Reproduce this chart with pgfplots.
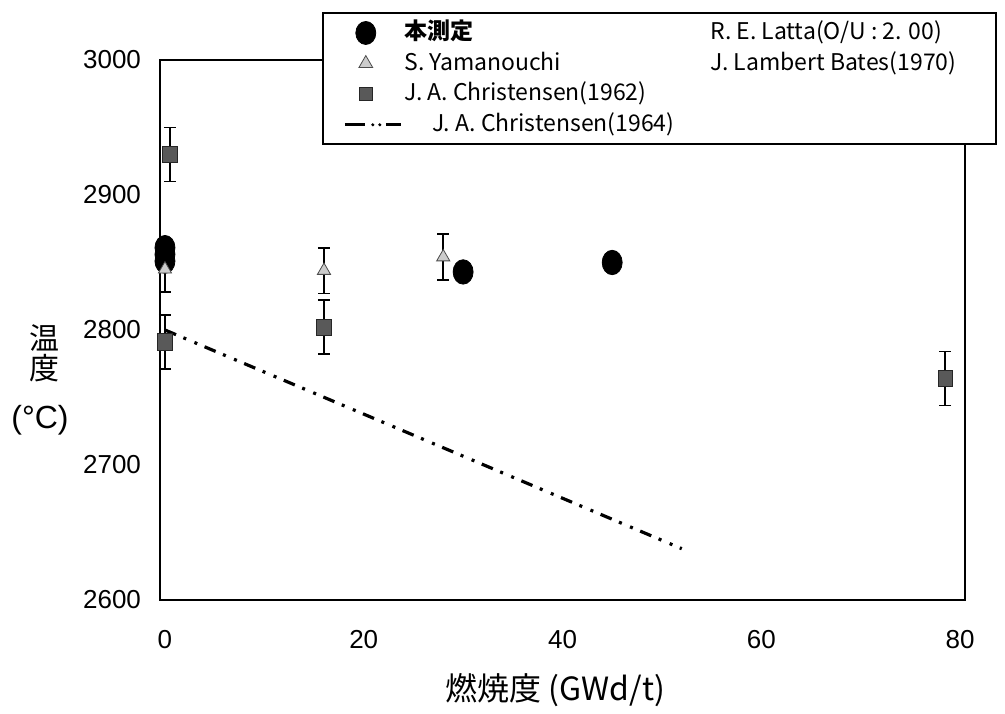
\documentclass[border=0pt]{standalone}
\usepackage{fontspec}
\setmainfont{Liberation Sans}
\newfontfamily\jfont{Noto Sans CJK JP}
\usepackage{pgfplots}
\pgfplotsset{compat=1.18}
\pgfplotsset{
    legmark/.style={legend image code/.code={%
        \path[draw=none, fill=none] (-18.5pt,-5pt) rectangle (18pt,5pt);
        \draw[##1] plot coordinates {(0pt,0pt)};}},
    legnone/.style={legend image code/.code={}},
    legdash/.style={legend image code/.code={%
        \path[draw=none, fill=none] (-18.5pt,-5pt) rectangle (18pt,5pt);
        \draw[line width=1.5pt] (-10.5pt,0pt) -- (-0.5pt,0pt);
        \draw[line width=1.5pt] (10pt,0pt) -- (17.5pt,0pt);
        \fill[draw=none] (3.5pt,0pt) circle (0.85pt);
        \fill[draw=none] (7pt,0pt) circle (0.85pt);}},
    errbar/.style={error bars/.cd, y dir=both, y explicit,
        error bar style={line width=0.9pt, black},
        error mark options={rotate=90, mark size=3pt, line width=0.9pt, black}},
}

\begin{document}
\begin{tikzpicture}
\begin{axis}[
    scale only axis, width=402.5pt, height=270pt,
    xmin=-0.5, xmax=80.5, ymin=2600, ymax=3000,
    xtick={0,20,...,80}, ytick={2600,2700,...,3000},
    axis line style={line width=1.1pt},
    major tick length=0pt,
    tick label style={font=\fontsize{13}{15}\selectfont},
    /pgf/number format/assume math mode=true,
    /pgf/number format/1000 sep={},
    xticklabel style={anchor=center, yshift=-20pt},
    yticklabel style={anchor=east, xshift=-6pt},
    clip=false,
    legend columns=2,
    legend cell align=left,
    legend style={at={(0.201,1.088)}, anchor=north west,
                  draw=black, line width=1pt, fill=white,
                  font=\jfont\fontsize{11.5}{13}\selectfont,
                  inner xsep=3pt, inner ysep=3pt, row sep=1.8pt,
                  nodes={inner sep=1pt, text height=9pt, text depth=2.5pt},
                  /tikz/every even column/.append style={column sep=16pt}},
]
\coordinate (sw) at (rel axis cs:0,0);
\coordinate (ne) at (rel axis cs:1,1);

% legend entries (row by row)
\addlegendimage{legmark, only marks, mark=*, mark size=5pt, black,
    mark options={yscale=1.15, line width=0.4pt}}
\addlegendentry{\textbf{本測定}}
\addlegendimage{legnone}
\addlegendentry{R. E. Latta(O/U : 2. 00)\hspace*{23pt}}
\addlegendimage{legmark, only marks, mark=triangle*, mark size=4pt,
    mark options={fill=gray!40, draw=black!70, line width=0.4pt}}
\addlegendentry{S. Yamanouchi}
\addlegendimage{legnone}
\addlegendentry{J. Lambert Bates(1970)}
\addlegendimage{legmark, only marks, mark=square*, mark size=3.3pt,
    mark options={fill=black!65, draw=black!85, line width=0.4pt}}
\addlegendentry{J. A. Christensen(1962)}
\addlegendimage{legnone}
\addlegendentry{}
\addlegendimage{legdash}
\addlegendentry{\hspace*{14pt}J. A. Christensen(1964)}
\addlegendimage{legnone}
\addlegendentry{}

% J. A. Christensen (1964)
\addplot[forget plot, black, line width=1.6pt,
    dash pattern=on 6pt off 4pt on 1.5pt off 4.5pt on 1.5pt off 4pt]
    coordinates {(0,2800) (52,2638)};

% 本測定
\addplot[forget plot, only marks, mark=*, mark size=5pt, black,
    mark options={yscale=1.22, line width=0.4pt}]
    coordinates {(0,2861) (0,2856) (0,2851) (30,2843) (45,2850)};

% S. Yamanouchi
\addplot[forget plot, only marks, mark=triangle*, mark size=3.8pt,
    mark options={fill=gray!40, draw=black!70, line width=0.4pt},
    errbar]
    coordinates {(0,2845) +- (0,17) (16,2844) +- (0,17) (28,2854) +- (0,17)};

% J. A. Christensen (1962)
\addplot[forget plot, only marks, mark=square*, mark size=3.6pt,
    mark options={yscale=1.15, fill=black!65, draw=black!85, line width=0.4pt},
    errbar]
    coordinates {(0.5,2930) +- (0,20) (0,2791) +- (0,20)
                 (16,2802) +- (0,20) (78.5,2764) +- (0,20)};

% axis labels
\node[font=\jfont\fontsize{15}{15}\selectfont, align=center, xshift=-57.5pt]
    at (rel axis cs:0,0.457) {温\\度};
\node[font=\fontsize{16}{18}\selectfont, xshift=-60pt]
    at (rel axis cs:0,0.333) {(°C)};
\node[font=\jfont\fontsize{16}{18}\selectfont, yshift=-45pt]
    at (rel axis cs:0.491,0) {燃焼度 (GWd/t)};
\end{axis}
\pgfresetboundingbox
\path[use as bounding box] ([shift={(-80pt,-56.5pt)}]sw) rectangle ([shift={(20pt,30pt)}]ne);
\end{tikzpicture}
\end{document}
